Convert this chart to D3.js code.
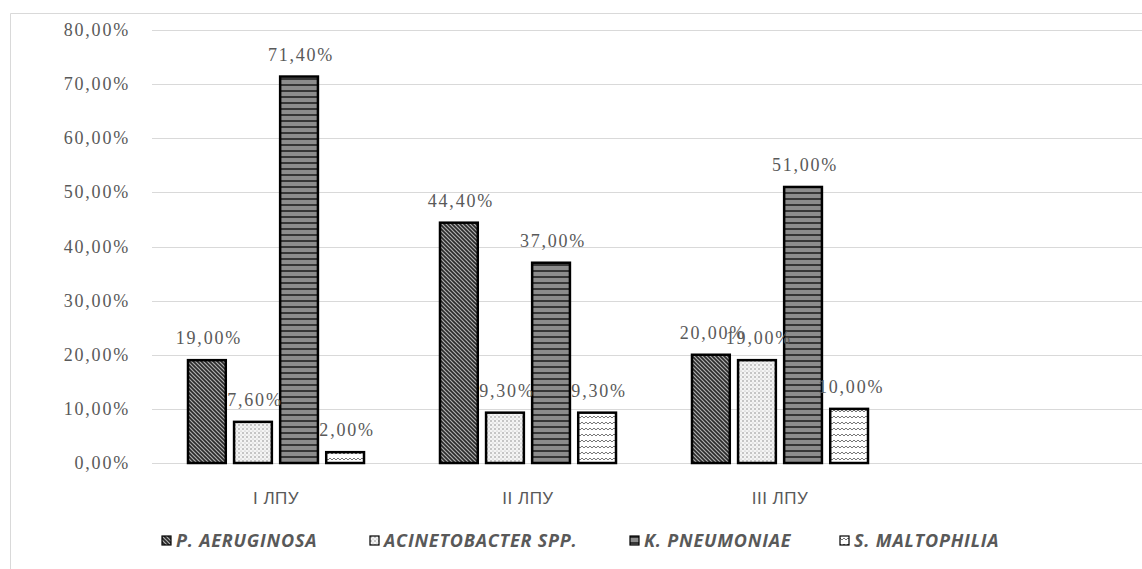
<!DOCTYPE html>
<html>
<head>
<meta charset="utf-8">
<script src="https://cdn.jsdelivr.net/npm/d3@7"></script>
<style>
  body { margin: 0; background: #fff; }
  svg { display: block; }
</style>
</head>
<body>
<div id="chart"></div>
<script>
// data
const categories = ["I ЛПУ", "II ЛПУ", "III ЛПУ"]
const series = ["P. AERUGINOSA", "ACINETOBACTER SPP.", "K. PNEUMONIAE", "S. MALTOPHILIA"]
const values = [
    [19.0, 7.6, 71.4, 2.0],
    [44.4, 9.3, 37.0, 9.3],
    [20.0, 19.0, 51.0, 10.0]
]
const yTicks = [0, 10, 20, 30, 40, 50, 60, 70, 80]

let width = 1142
let height = 569
let textColor = "#595959"

let svg = d3.select("#chart")
    .append("svg")
    .attr("width", width)
    .attr("height", height)

// patterns
let defs = svg.append("defs")
let pat1 = defs.append("pattern").attr("id", "pat0")
    .attr("patternUnits", "userSpaceOnUse").attr("width", 4).attr("height", 4)
pat1.append("rect").attr("width", 4).attr("height", 4).attr("fill", "#2a2a2a")
pat1.append("path").attr("d", "M0,0 L4,4 M-1,3 L1,5 M3,-1 L5,1")
    .attr("stroke", "#b0b0b0").attr("stroke-width", 1.2)

let pat2 = defs.append("pattern").attr("id", "pat1")
    .attr("patternUnits", "userSpaceOnUse").attr("width", 4).attr("height", 4)
pat2.append("rect").attr("width", 4).attr("height", 4).attr("fill", "#f4f4f4")
pat2.append("circle").attr("cx", 1).attr("cy", 1).attr("r", 0.8).attr("fill", "#8a8a8a")
pat2.append("circle").attr("cx", 3).attr("cy", 3).attr("r", 0.6).attr("fill", "#b0b0b0")

let pat3 = defs.append("pattern").attr("id", "pat2")
    .attr("patternUnits", "userSpaceOnUse").attr("width", 6).attr("height", 6)
pat3.append("rect").attr("width", 6).attr("height", 6).attr("fill", "#8c8c8c")
pat3.append("line").attr("x1", 0).attr("x2", 6).attr("y1", 1).attr("y2", 1)
    .attr("stroke", "#111").attr("stroke-width", 1.4)

let pat4 = defs.append("pattern").attr("id", "pat3")
    .attr("patternUnits", "userSpaceOnUse").attr("width", 8).attr("height", 6)
pat4.append("rect").attr("width", 8).attr("height", 6).attr("fill", "#fff")
pat4.append("path").attr("d", "M0,2 L2,4 L4,2 L6,4 L8,2")
    .attr("fill", "none").attr("stroke", "#777").attr("stroke-width", 1)

// outer border
svg.append("path")
    .attr("d", `M10.5,${height} L10.5,13.5 L${width},13.5`)
    .attr("fill", "none")
    .attr("stroke", "#d9d9d9")
    .attr("stroke-width", 1)

// scales
let y = d3.scaleLinear().domain([0, 80]).range([463, 30])
let x0 = d3.scaleBand().domain(categories).range([150, 906])
let groupW = 176
let x1 = d3.scaleBand().domain(series)
    .range([(x0.bandwidth() - groupW) / 2, (x0.bandwidth() + groupW) / 2])
    .paddingInner(0.18)

let locale = d3.formatLocale({ decimal: ",", thousands: " ", grouping: [3], currency: ["", ""] })
let fmt = locale.format(".2f")

// gridlines
svg.append("g")
    .selectAll("line")
    .data(yTicks)
    .enter()
    .append("line")
    .attr("x1", 152)
    .attr("x2", width)
    .attr("y1", d => Math.round(y(d)) + 0.5)
    .attr("y2", d => Math.round(y(d)) + 0.5)
    .attr("stroke", "#d9d9d9")
    .attr("stroke-width", 1)

// y labels
svg.append("g")
    .selectAll("text")
    .data(yTicks)
    .enter()
    .append("text")
    .attr("x", 130)
    .attr("y", d => y(d) + 6)
    .attr("text-anchor", "end")
    .attr("font-family", "'Liberation Serif', serif")
    .attr("font-size", 18)
    .attr("letter-spacing", 1.8)
    .attr("fill", textColor)
    .text(d => fmt(d) + "%")

// bars
let groups = svg.append("g")
    .selectAll("g")
    .data(categories)
    .enter()
    .append("g")
    .attr("transform", d => `translate(${x0(d)},0)`)

groups.selectAll("rect")
    .data((d, i) => values[i].map((v, j) => ({ s: series[j], j: j, v: v })))
    .enter()
    .append("rect")
    .attr("x", d => x1(d.s))
    .attr("y", d => y(d.v))
    .attr("width", x1.bandwidth())
    .attr("height", d => y(0) - y(d.v))
    .attr("fill", d => `url(#pat${d.j})`)
    .attr("stroke", "#000")
    .attr("stroke-width", 2.5)

groups.selectAll("text")
    .data((d, i) => values[i].map((v, j) => ({ s: series[j], j: j, v: v })))
    .enter()
    .append("text")
    .attr("x", d => x1(d.s) + x1.bandwidth() / 2 + 2)
    .attr("y", d => y(d.v) - 16)
    .attr("text-anchor", "middle")
    .attr("font-family", "'Liberation Serif', serif")
    .attr("font-size", 18)
    .attr("letter-spacing", 1.8)
    .attr("fill", textColor)
    .text(d => fmt(d.v) + "%")

// category labels
svg.append("g")
    .selectAll("text")
    .data(categories)
    .enter()
    .append("text")
    .attr("x", d => x0(d) + x0.bandwidth() / 2)
    .attr("y", 504)
    .attr("text-anchor", "middle")
    .attr("font-family", "'Liberation Sans', sans-serif")
    .attr("font-size", 17)
    .attr("letter-spacing", 0.5)
    .attr("fill", textColor)
    .text(d => d)

// legend
let legendX = [162, 370, 630, 840]
let legend = svg.append("g")
    .selectAll("g")
    .data(series)
    .enter()
    .append("g")
    .attr("transform", (d, i) => `translate(${legendX[i]},536)`)
legend.append("rect")
    .attr("width", 9)
    .attr("height", 9)
    .attr("fill", (d, i) => `url(#pat${i})`)
    .attr("stroke", "#000")
    .attr("stroke-width", 1.2)
legend.append("text")
    .attr("x", 14)
    .attr("y", 11)
    .attr("font-family", "'Open Sans', sans-serif")
    .attr("font-weight", "bold")
    .attr("font-style", "italic")
    .attr("font-size", 18)
    .attr("letter-spacing", 0.8)
    .attr("fill", textColor)
    .text(d => d)
</script>
</body>
</html>
